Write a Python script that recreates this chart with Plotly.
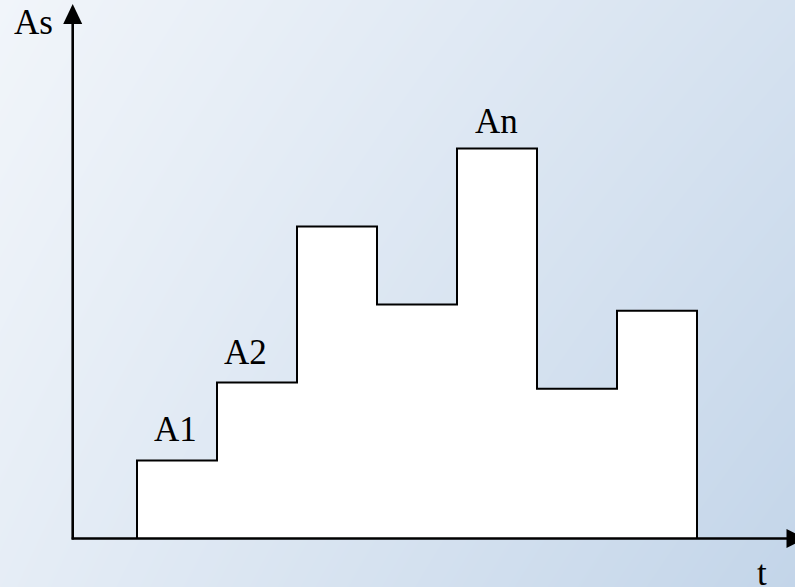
import plotly.graph_objects as go

W, H = 795, 587

# step boundaries on t, and step levels As
step_edges = [1, 2, 3, 4, 5, 6, 7, 8]
step_heights = [1.0, 2.0, 4.0, 3.0, 5.0, 1.92, 2.92]

# labels above some steps (data coords)
step_labels = ["A1", "A2", "An"]
label_t = [1.475, 2.35, 5.49]
label_as = [1.40, 2.38, 5.34]

x_title = "t"
y_title = "As"

# pixel layout: one t unit = 80px, one As unit = 78px
X0_PX, XU = 137, 80.0
Y0_PX, YU = 538.5, 78.0
x_range = [1 - X0_PX / XU, 1 + (W - X0_PX) / XU]
y_range = [-(H - Y0_PX) / YU, Y0_PX / YU]


def dx(p):
    # pixel column -> t
    return 1 + (p - X0_PX) / XU


def dy(p):
    # pixel row -> As
    return (Y0_PX - p) / YU


def px(x):
    return x / W


def py(y):
    return 1 - y / H


fig = go.Figure()

# background gradient
fig.add_trace(go.Heatmap(
    x=x_range, y=y_range,
    z=[[0.25, 1.0], [0.0, 0.6]],
    zsmooth="best", showscale=False, hoverinfo="skip",
    colorscale=[[0, "#f1f5fa"], [1, "#c3d5e9"]], zmin=0, zmax=1,
))

# step outline
xs = [step_edges[0]] + step_edges[:-1] + [step_edges[-1], step_edges[-1]]
ys = [0] + step_heights + [step_heights[-1], 0]
fig.add_trace(go.Scatter(
    x=xs, y=ys, mode="lines", line=dict(shape="hv", color="black", width=2),
    fill="toself", fillcolor="white", hoverinfo="skip",
))

# axes with arrowheads
ox = dx(72.7)
lw = 2.6
fig.add_trace(go.Scatter(x=[ox, ox], y=[dy(539.5), dy(22)], mode="lines",
                         line=dict(color="black", width=lw), hoverinfo="skip"))
fig.add_trace(go.Scatter(x=[dx(71.7), dx(788)], y=[0, 0], mode="lines",
                         line=dict(color="black", width=lw), hoverinfo="skip"))
fig.add_trace(go.Scatter(x=[ox, dx(72.7 - 9.5), dx(72.7 + 9.5), ox], y=[dy(4), dy(24), dy(24), dy(4)],
                         mode="lines", fill="toself", fillcolor="black", line=dict(width=0, color="black"),
                         hoverinfo="skip"))
fig.add_trace(go.Scatter(x=[dx(806), dx(786.5), dx(786.5), dx(806)],
                         y=[0, dy(Y0_PX - 9.5), dy(Y0_PX + 9.5), 0],
                         mode="lines", fill="toself", fillcolor="black", line=dict(width=0, color="black"),
                         hoverinfo="skip"))

lab_font = dict(family="serif", size=35, color="black")
ann = []
for lab, xv, yv in zip(step_labels, label_t, label_as):
    ann.append(dict(x=xv, y=yv, xref="x", yref="y", text=lab, showarrow=False,
                    xanchor="center", yanchor="middle", font=lab_font))
ann.append(dict(x=px(33), y=py(22.5), xref="paper", yref="paper", text=y_title, showarrow=False,
                xanchor="center", yanchor="middle", font=lab_font))
ann.append(dict(x=px(762), y=py(573), xref="paper", yref="paper", text=x_title, showarrow=False,
                xanchor="center", yanchor="middle", font=lab_font))

fig.update_layout(
    width=W, height=H,
    margin=dict(l=0, r=0, t=0, b=0),
    font=dict(family="serif", size=35, color="black"),
    paper_bgcolor="#dce6f2",
    plot_bgcolor="#dce6f2",
    showlegend=False,
    xaxis=dict(range=x_range, visible=False, fixedrange=True),
    yaxis=dict(range=y_range, visible=False, fixedrange=True),
    annotations=ann,
)

fig.write_html("out.html", config=dict(displayModeBar=False),
               post_script="document.body.style.margin='0';document.body.style.overflow='hidden';")
